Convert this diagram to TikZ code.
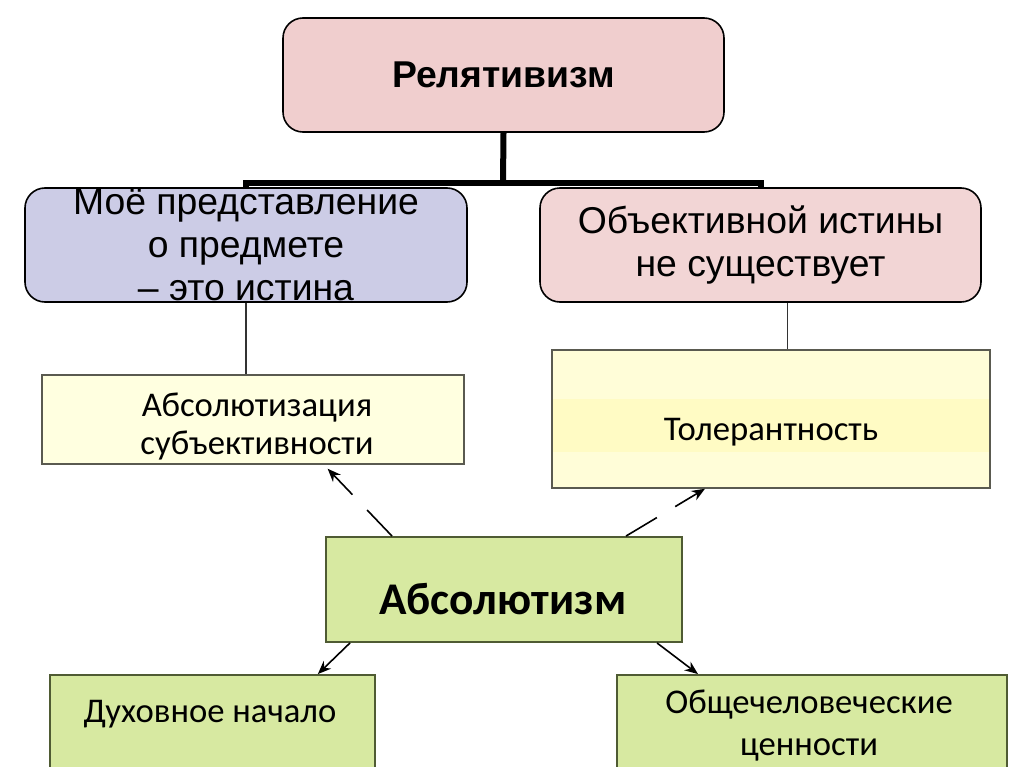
\documentclass[tikz,border=0pt]{standalone}
\usepackage{fontspec}
\setmainfont{Liberation Sans}
\newfontfamily\calib{Carlito}
\usetikzlibrary{arrows.meta}
\definecolor{relpink}{HTML}{F0CECE}
\definecolor{lav}{HTML}{CCCCE6}
\definecolor{pinkb}{HTML}{F2D5D5}
\definecolor{ylw}{HTML}{FFFFE0}
\definecolor{ylwout}{HTML}{FFFDD8}
\definecolor{ylwmid}{HTML}{FFFBC4}
\definecolor{grn}{HTML}{D7E9A1}
\definecolor{grnb}{HTML}{4F5B33}
\definecolor{ylwb}{HTML}{5A5A50}
\tikzset{
  topbox/.style={draw=black, line width=1.2pt, rounded corners=15pt, align=center, inner sep=0pt},
  ybox/.style={draw=ylwb, line width=1.1pt, fill=ylw, inner sep=0pt},
  gbox/.style={draw=grnb, line width=1.4pt, fill=grn, inner sep=0pt},
  thickline/.style={line width=4.5pt},
  thinline/.style={line width=0.8pt, draw=black!80},
  arr/.style={line width=1.2pt, -{Stealth[length=10pt,width=8pt]}},
  darr/.style={arr, dash pattern=on 27pt off 16pt},
  toptext/.style={font=\fontsize{28}{32.25}\selectfont},
  ctext/.style={font=\calib\fontsize{26}{28.5}\selectfont, align=center},
}
\begin{document}
\begin{tikzpicture}[x=0.75pt, y=-0.75pt]
\useasboundingbox (0,0) rectangle (1024,767);
\clip (0,0) rectangle (1024,767);
% top boxes
\node[topbox, fill=relpink, minimum width=330.75pt, minimum height=85.5pt, font=\bfseries\fontsize{28}{32}\selectfont] (rel) at (503.5,75) {Релятивизм};
\node[topbox, fill=lav, minimum width=331.5pt, minimum height=85.5pt, toptext] (left) at (246,245) {Моё представление\\о предмете\\– это истина};
\node[topbox, fill=pinkb, minimum width=330.75pt, minimum height=85.5pt, toptext] (right) at (760.5,245) {Объективной истины\\не существует};
% thick connector
\coordinate (hub) at (503,183);
\draw[thickline] (rel.south) -- (hub);
\draw[thickline] ([yshift=-1.5pt]left.north) |- (hub) -| ([yshift=-1.5pt]right.north);
% middle boxes
\node[ybox, minimum width=316.5pt, minimum height=66.75pt] (abs1) at (253,419.5) {};
\node[ctext] (abs1T) at (257,426) {Абсолютизация\\субъективности};
\node[draw=ylwb, line width=1.1pt, minimum width=328.5pt, minimum height=103.5pt, inner sep=0pt,
  path picture={
    \fill[ylwout] (path picture bounding box.south west) rectangle (path picture bounding box.north east);
    \fill[ylwmid] ([yshift=-36.75pt]path picture bounding box.north west) rectangle ([yshift=27pt]path picture bounding box.south east);
  }] (tol) at (771,419) {};
\node[ctext] (tolT) at (771,432) {Толерантность};
\draw[thinline] (left.south) -- (left.south |- abs1.north);
\draw[thinline] ([xshift=20pt]right.south) -- ([xshift=20pt]right.south |- tol.north);
% absolutism
\node[gbox, minimum width=267pt, minimum height=78.75pt] (absm) at (504,589.5) {};
\node[font=\calib\bfseries\fontsize{34}{40}\selectfont] (absmT) at (503,599) {Абсолютизм};
% bottom boxes
\node[gbox, minimum width=243.75pt, minimum height=86.25pt] (dukh) at (212.5,732.5) {};
\node[ctext] (dukhT) at (210,714) {Духовное начало};
\node[gbox, minimum width=292.5pt, minimum height=86.25pt] (obsh) at (812,732.5) {};
\node[ctext, font=\calib\fontsize{26}{31.5}\selectfont] (obshT) at (809,726) {Общечеловеческие\\ценности};
% arrows
\draw[darr] ([xshift=-84pt]absm.north) -- ([xshift=56pt,yshift=-3pt]abs1.south);
\draw[darr] ([xshift=91.5pt]absm.north) -- ([xshift=-49.5pt]tol.south);
\draw[arr] ([xshift=-115.5pt]absm.south) -- ([xshift=79pt]dukh.north);
\draw[arr] ([xshift=114.75pt]absm.south) -- ([xshift=-85.5pt]obsh.north);
\end{tikzpicture}
\end{document}
